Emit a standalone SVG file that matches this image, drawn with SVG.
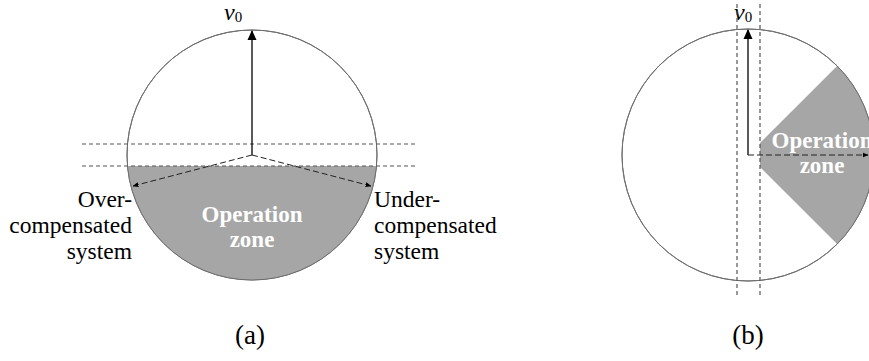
<svg xmlns="http://www.w3.org/2000/svg" width="869" height="361" viewBox="0 0 869 361">
  <defs>
    <marker id="headSolid" viewBox="0 0 10 10" refX="9" refY="5" markerWidth="10" markerHeight="10" markerUnits="userSpaceOnUse" orient="auto">
      <path d="M0,0.5 L10,5 L0,9.5 Z" fill="#000"/>
    </marker>
    <marker id="headSmall" viewBox="0 0 10 10" refX="9" refY="5" markerWidth="6" markerHeight="6" markerUnits="userSpaceOnUse" orient="auto">
      <path d="M0,1 L10,5 L0,9 Z" fill="#000"/>
    </marker>
  </defs>
  <style>
    .circle { fill: #fff; stroke: #6e6e6e; stroke-width: 1; }
    .rim { fill: none; stroke: #6e6e6e; stroke-width: 1; }
    .zone { fill: #a6a6a6; stroke: none; }
    .guide { fill: none; stroke: #555; stroke-width: 1.2; stroke-dasharray: 4 3; }
    .vec { fill: none; stroke: #000; stroke-width: 1.3; }
    .dvec { fill: none; stroke: #222; stroke-width: 1; stroke-dasharray: 6 3; }
    .lbl { font-family: "Liberation Serif", "Times New Roman", serif; font-size: 23.5px; fill: #000; }
    .zlbl { font-family: "Liberation Serif", "Times New Roman", serif; font-size: 23px; font-weight: bold; fill: #fff; text-anchor: middle; }
    .cap { font-family: "Liberation Serif", "Times New Roman", serif; font-size: 27px; fill: #000; text-anchor: middle; }
    .vlbl { font-family: "Liberation Serif", "Times New Roman", serif; font-size: 24px; font-style: italic; fill: #000; }
    .sub { font-size: 15px; font-style: normal; }
  </style>

  <!-- Panel (a): operating zone below the dead band -->
  <g id="circle-a">
    <circle class="circle" cx="252" cy="155" r="125"/>
    <path class="zone" d="M127.5,166 A125,125 0 0 0 376.5,166 Z"/>
    <circle class="rim" cx="252" cy="155" r="125"/>
  </g>
  <g id="zone-label-a">
    <text class="zlbl" x="252" y="222">Operation</text>
    <text class="zlbl" x="252" y="247">zone</text>
  </g>
  <g id="label-over">
    <text class="lbl" text-anchor="end" x="132" y="207">Over-</text>
    <text class="lbl" text-anchor="end" x="132" y="233">compensated</text>
    <text class="lbl" text-anchor="end" x="132" y="259">system</text>
  </g>
  <g id="label-under">
    <text class="lbl" x="374" y="207">Under-</text>
    <text class="lbl" x="374" y="233">compensated</text>
    <text class="lbl" x="374" y="259">system</text>
  </g>
  <g id="v0-a">
    <text class="vlbl" x="224" y="20">v<tspan class="sub" dy="2">0</tspan></text>
  </g>
  <text id="caption-a" class="cap" x="250" y="344">(a)</text>

  <!-- Panel (b): operating sector to the right -->
  <g id="circle-b">
    <circle class="circle" cx="748" cy="155" r="126"/>
    <path class="zone" d="M760,143 L837.1,65.9 A126,126 0 0 1 837.1,244.1 L760,167 Z"/>
    <circle class="rim" cx="748" cy="155" r="126"/>
  </g>
  <g id="zone-label-b">
    <text class="zlbl" x="822" y="148">Operation</text>
    <text class="zlbl" x="822" y="173">zone</text>
  </g>
  <g id="v0-b">
    <text class="vlbl" x="734" y="20">v<tspan class="sub" dy="2">0</tspan></text>
  </g>
  <text id="caption-b" class="cap" x="748" y="344">(b)</text>

  <!-- Guides and vectors -->
  <g id="connectors">
    <line class="guide" x1="82" y1="144" x2="418" y2="144"/>
    <line class="guide" x1="82" y1="166" x2="418" y2="166"/>
    <line class="vec" x1="252" y1="155" x2="252" y2="31" marker-end="url(#headSolid)"/>
    <line class="dvec" x1="252" y1="155" x2="133" y2="186" marker-end="url(#headSmall)"/>
    <line class="dvec" x1="252" y1="155" x2="371" y2="186" marker-end="url(#headSmall)"/>

    <line class="guide" x1="737" y1="4" x2="737" y2="297"/>
    <line class="guide" x1="760" y1="4" x2="760" y2="297"/>
    <line class="vec" x1="748" y1="155" x2="748" y2="30" marker-end="url(#headSolid)"/>
    <line class="dvec" x1="748" y1="155" x2="868" y2="155" marker-end="url(#headSmall)"/>
  </g>
</svg>
